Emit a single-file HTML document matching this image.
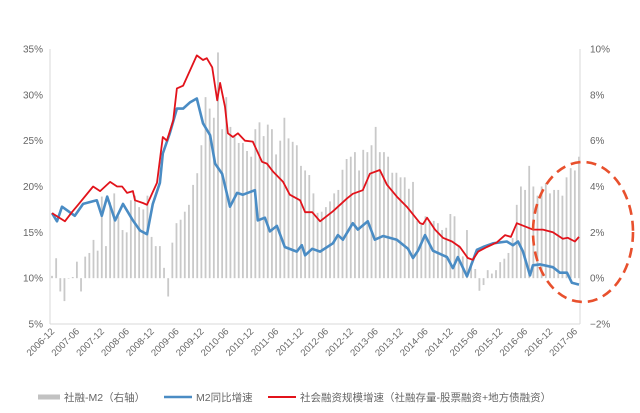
<!DOCTYPE html>
<html><head><meta charset="utf-8">
<style>
html,body{margin:0;padding:0;background:#fff;}
svg{display:block;font-family:"Liberation Sans","Noto Sans CJK SC",sans-serif;}
</style></head>
<body>
<svg id="chart" width="640" height="413" viewBox="0 0 640 413" xmlns="http://www.w3.org/2000/svg"></svg>
<script>
const leftTicks=[5,10,15,20,25,30,35];
const rightTicks=[-2,0,2,4,6,8,10];
const xTickLabels=["2006-12","2007-06","2007-12","2008-06","2008-12","2009-06","2009-12","2010-06","2010-12","2011-06","2011-12","2012-06","2012-12","2013-06","2013-12","2014-06","2014-12","2015-06","2015-12","2016-06","2016-12","2017-06"];
const spreadBars=[0.1,0.87,-0.58,-1.0,0,0.05,0.72,-0.58,0.94,1.1,1.67,1.2,3.56,1.4,3.3,3.7,2.7,2.1,2.0,3.4,3.6,3.1,3.0,3.6,1.8,1.4,1.4,0.45,-0.8,1.55,2.4,2.55,2.9,3.2,4.07,4.58,5.8,7.9,7.4,7.0,9.85,6.5,7.9,6.6,6.2,5.9,5.9,5.55,5.3,6.5,6.8,6.2,6.7,6.5,5.4,6.0,7.0,6.1,5.95,5.8,4.9,4.7,4.5,3.7,
2.85,2.9,3.1,3.35,3.7,3.85,4.73,5.2,5.3,5.5,4.7,5.6,5.5,5.8,6.6,5.5,5.5,5.3,4.6,4.6,4.4,4.4,3.9,4.2,2.5,2.4,2.7,2.5,2.5,2.4,2.1,2.2,2.8,2.7,1.45,0.95,2.1,0.65,0.4,-0.55,-0.3,0.35,0.2,0.35,0.7,0.85,1.1,1.75,3.2,4.0,3.85,4.9,4.0,3.6,4.0,4.15,3.7,3.85,3.85,3.6,4.4,4.8,4.7,5.3];
const redMonths=[0,3.1,4.8,6.3,9.9,11.6,14,15.7,16.9,18.1,19.5,20,21.9,22.9,25.3,26.7,27.7,29.2,30.1,31.6,34.9,36.4,37.3,38.6,39.8,40.5,41.7,42.4,43.6,44.8,46.5,48.4,50.6,51.8,53.3,55.7,57.3,59.8,61,62.7,64.6,67.7,71.1,72.5,74.9,76.6,79,80.7,83.1,85.5,88.7,89.4,90.4,92.3,94.2,96.4,98.3,100.2,101.4,102.7,104.8,107.2,109.2,110.6,112,115.9,118.3,120.7,123.1,124.3,126,127];
const redValues=[17.1,16.2,17.2,18,20,19.5,20.5,20,20,19.3,19.5,18.5,18.2,18,20.4,25.4,25,27.2,30.7,31,34.3,33.8,34,33,29.4,31.3,28.7,25.8,25.4,25.8,25,24.9,22.7,22.5,21.6,20.5,19.1,18.5,17.2,17.2,16.2,17.3,18.7,19.2,19.6,21.4,21.8,20.2,18.9,17.8,16,15.9,16.6,15.3,14.4,14,13.4,12.2,12,12.9,13.4,13.9,14.7,14.5,16,15.3,15.3,15,14.3,14.4,14,14.5];
const blueMonths=[0,1.2,2.4,5.5,7.5,10.8,12,13.3,15.2,17.1,19.5,21.2,22.9,24.3,26,26.7,28.4,30.1,31.6,33.3,34.9,36.4,38.1,39.3,41,42.9,44.6,46,48.9,49.6,51.3,52.5,54.2,56.1,59,60.2,61,62.7,64.6,67.7,68.9,70.1,72.5,73.7,76.1,77.8,79.8,83.1,85.8,87,88.2,89.9,91.8,95.2,96.6,97.8,100,102.4,103.9,106.3,109.6,111.1,112.3,113.5,115.2,115.9,117.6,120.7,122.4,124.1,125.3,127];
const blueValues=[17.1,16.2,17.8,16.8,18.1,18.5,16.8,18.9,16.3,18.1,16.3,15.2,14.8,18.1,20.4,23.6,25.8,28.5,28.5,29.2,29.6,26.9,25.6,22.5,21.4,17.8,19.3,19.1,19.6,16.3,16.6,15.1,15.7,13.4,12.9,13.6,12.5,13.2,12.9,13.8,14.7,14.2,16,15.3,16.2,14.2,14.6,14.2,13.2,12.2,13,14.7,13,12.3,11.1,12.3,10.2,13.1,13.4,13.8,14,13.6,14,12.9,10.3,11.4,11.5,11.2,10.6,10.6,9.5,9.3];

const NS="http://www.w3.org/2000/svg";
const svg=document.getElementById('chart');
const X0=52,X1=579,Y0=324,Y1=49,AXL=50,AXR=580;
const NM=127;
function xs(m){return X0+m*(X1-X0)/NM;}
function yl(v){return Y0-(v-5)*(Y0-Y1)/30;}
function yr(v){return Y0-(v+2)*(Y0-Y1)/12;}
function mk(tag,attrs,parent){const e=document.createElementNS(NS,tag);for(const k in attrs)e.setAttribute(k,attrs[k]);(parent||svg).appendChild(e);return e;}

// bars
const gb=mk('g',{});


spreadBars.forEach((v,i)=>{
  const x=xs(i),y0=yr(0),y=yr(v);
  const r=mk('rect',{x:x-0.9,y:Math.min(y,y0),width:1.8,height:Math.max(0.5,Math.abs(y0-y)),fill:'#c9c9c9'},gb);
  
  
});

// axes
const al=mk('line',{x1:AXL,y1:Y1,x2:AXL,y2:Y0,stroke:'#d9d9d9','stroke-width':1});


const ar=mk('line',{x1:AXR,y1:Y1,x2:AXR,y2:Y0,stroke:'#d9d9d9','stroke-width':1});


const ab=mk('line',{x1:AXL,y1:Y0,x2:AXR,y2:Y0,stroke:'#d9d9d9','stroke-width':1});



leftTicks.forEach(v=>{
  const t=mk('text',{x:43,y:yl(v)+3.5,'text-anchor':'end','font-size':10,fill:'#666'});
  t.textContent=v+'%';
  
  
});
rightTicks.forEach(v=>{
  const t=mk('text',{x:590,y:yr(v)+3.5,'text-anchor':'start','font-size':10,fill:'#666'});
  t.textContent=(v<0?'\u2212'+(-v):v)+'%';
  
  
});
xTickLabels.forEach((s,i)=>{
  const x=xs(i*6)+3,y=332;
  const t=mk('text',{x:x,y:y,'text-anchor':'end','font-size':9.5,fill:'#666',transform:`rotate(-45 ${x} ${y})`});
  t.textContent=s;
  
  
});

function line(ms,vs,color,w,name){
  const d=ms.map((m,i)=>(i?'L':'M')+xs(m).toFixed(1)+' '+yl(vs[i]).toFixed(1)).join(' ');
  const p=mk('path',{d:d,fill:'none',stroke:color,'stroke-width':w,'stroke-linejoin':'round'});
  
  
}
line(blueMonths,blueValues,'#4a8cc4',2.6,'m2-growth-line');
line(redMonths,redValues,'#e2131b',1.8,'social-financing-growth-line');

// ellipse annotation
const el=mk('ellipse',{cx:583,cy:232,rx:50,ry:70,fill:'none',stroke:'#e8502d','stroke-width':2.6,'stroke-dasharray':'10 6'});



// legend
const lg=mk('g',{});


const items=[
 {x:38,color:'#c2c2c2',w:5,len:22,text:'社融-M2（右轴）',name:'legend-entry-spread'},
 {x:164,color:'#4a8cc4',w:2.6,len:28,text:'M2同比增速',name:'legend-entry-m2'},
 {x:268,color:'#e2131b',w:2,len:28,text:'社会融资规模增速（社融存量-股票融资+地方债融资）',name:'legend-entry-tsf'}
];
items.forEach(it=>{
  const g=mk('g',{},lg);
  
  
  mk('line',{x1:it.x,y1:397,x2:it.x+it.len,y2:397,stroke:it.color,'stroke-width':it.w},g);
  const t=mk('text',{x:it.x+it.len+4,y:401,'font-size':10.5,fill:'#666'},g);
  t.textContent=it.text;
});
</script>
</body></html>
